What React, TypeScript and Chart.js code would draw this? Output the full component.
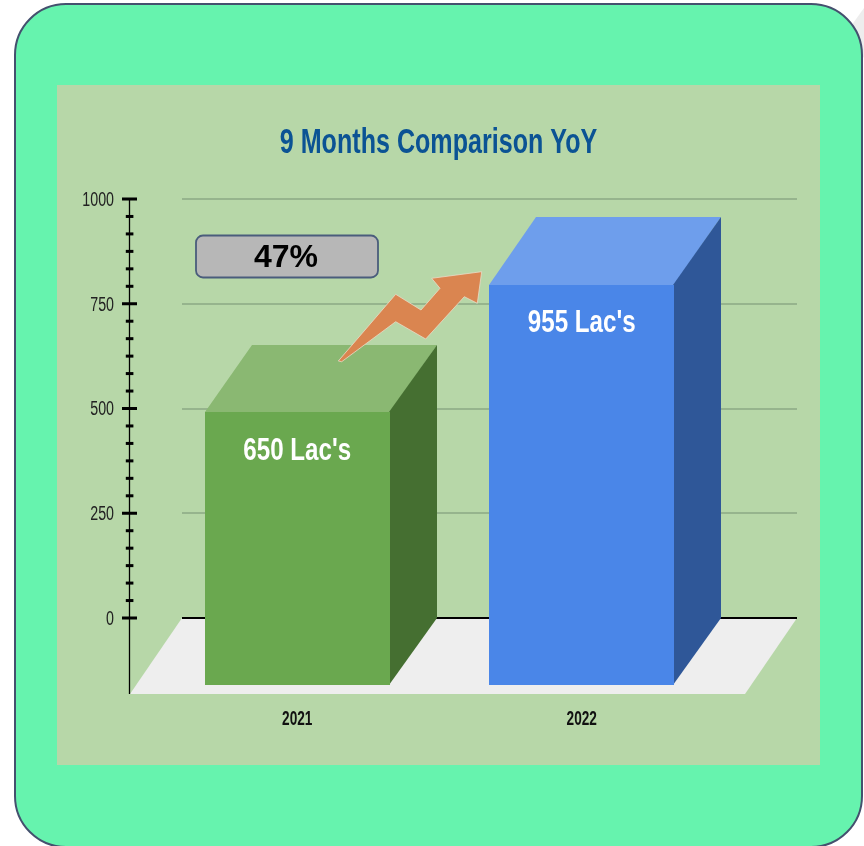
import React, { useEffect, useRef } from "react";
import { Chart, registerables } from "chart.js";

Chart.register(...registerables);

const categories = ["2021", "2022"];
const seriesValues = [650, 955];
const barLabels = ["650 Lac's", "955 Lac's"];
const frontColors = ["#6AA84F", "#4A86E8"];
const topColors = ["#8AB872", "#6E9EEC"];
const sideColors = ["#456F31", "#2F5798"];
const yTickLabels = [0, 250, 500, 750, 1000];
const minorStep = 250 / 6;
const titleText = "9 Months Comparison YoY";
const growthText = "47%";

const PANEL_X = 57;
const PANEL_Y = 85;
const SANS = '"Liberation Sans", sans-serif';
const DEPTH_X = 47;
const DEPTH_Y = 67;

const arrowShape: [number, number][] = [
  [338.3, 361], [395.7, 294.3], [421, 310], [440, 288.3], [431.7, 278.3], [481.7, 271.7],
  [477.3, 303.3], [464.3, 296.7], [425.7, 339], [395.7, 321.7], [341.7, 361.7],
];

function poly(ctx: CanvasRenderingContext2D, pts: number[][], fill: string) {
  ctx.beginPath();
  pts.forEach(([x, y], i) => (i ? ctx.lineTo(x, y) : ctx.moveTo(x, y)));
  ctx.closePath();
  ctx.fillStyle = fill;
  ctx.fill();
}

// The narrow face of the reference is not installed: condense the text horizontally.
function condenseText(ctx: any) {
  const original = ctx.fillText.bind(ctx);
  ctx.fillText = (text: string, x: number, y: number) => {
    if (text === growthText) {
      original(text, x, y);
      return;
    }
    const font: string = ctx.font;
    const bold = font.includes("bold");
    const k = font.includes("35px") ? 0.717 : font.includes("32px") ? 0.755 : bold ? 0.7 : 0.73;
    ctx.save();
    ctx.translate(x, bold ? y : y + 1.5);
    ctx.scale(k, 1);
    original(text, 0, 0);
    ctx.restore();
  };
}

const scene3d = {
  id: "scene3d",
  beforeDatasetsDraw(chart: any) {
    const { ctx, scales } = chart;
    const y = scales.y;
    const axisX = 130 - PANEL_X;
    const backL = 182 - PANEL_X;
    const backR = 797 - PANEL_X;
    const zero = y.getPixelForValue(0);
    ctx.save();
    poly(ctx, [[backL, zero], [backR, zero], [745 - PANEL_X, zero + 76], [axisX, zero + 76]], "#EEEEEE");
    yTickLabels.forEach((v) => {
      const py = Math.round(y.getPixelForValue(v));
      ctx.beginPath();
      ctx.moveTo(backL, py);
      ctx.lineTo(backR, py);
      ctx.strokeStyle = v === 0 ? "#000000" : "#8BA985";
      ctx.lineWidth = v === 0 ? 2 : 1.5;
      ctx.stroke();
    });
    ctx.beginPath();
    ctx.moveTo(axisX - 0.5, y.getPixelForValue(1000));
    ctx.lineTo(axisX - 0.5, zero + 76);
    ctx.strokeStyle = "#000000";
    ctx.lineWidth = 1.3;
    ctx.stroke();
    for (let i = 0; i <= 24; i++) {
      const py = y.getPixelForValue(i * minorStep);
      const major = i % 6 === 0;
      ctx.fillStyle = "#000000";
      ctx.fillRect(axisX - (major ? 8 : 4.2), py - 1.5, major ? 15 : 7.6, 3);
    }
    ctx.restore();
  },
  beforeDatasetDraw(chart: any, args: any) {
    const { ctx } = chart;
    args.meta.data.forEach((el: any, i: number) => {
      const left = Math.round(el.x - el.width / 2);
      const right = Math.round(el.x + el.width / 2);
      const backTop = Math.floor(el.y);
      const backBot = Math.round(el.base);
      const topF = Math.round(el.y + DEPTH_Y - 0.3);
      const botF = backBot + DEPTH_Y;
      poly(ctx, [[left, topF], [right, topF], [right + DEPTH_X, backTop], [left + DEPTH_X, backTop]], topColors[i]);
      poly(ctx, [[right - 1, topF], [right + DEPTH_X, backTop], [right + DEPTH_X, backBot], [right - 1, botF]], sideColors[i]);
      poly(ctx, [[left, topF], [right, topF], [right, botF], [left, botF]], el.options.backgroundColor);
      ctx.save();
      ctx.fillStyle = "#FFFFFF";
      ctx.font = `bold 32px ${SANS}`;
      ctx.textAlign = "center";
      ctx.textBaseline = "middle";
      ctx.fillText(barLabels[i], el.x, backTop + DEPTH_Y + 39.5);
      ctx.restore();
    });
    return false;
  },
  afterDatasetsDraw(chart: any) {
    const { ctx } = chart;
    ctx.save();
    ctx.translate(-PANEL_X, -PANEL_Y);
    poly(ctx, arrowShape, "#DA8550");
    ctx.lineWidth = 0.8;
    ctx.strokeStyle = "#E8DCC8";
    ctx.stroke();
    ctx.beginPath();
    ctx.roundRect(196, 235.5, 182, 42, 7);
    ctx.fillStyle = "#B7B7B7";
    ctx.fill();
    ctx.lineWidth = 1.8;
    ctx.strokeStyle = "#4A5D7C";
    ctx.stroke();
    ctx.fillStyle = "#000000";
    ctx.font = `bold 32px ${SANS}`;
    ctx.textAlign = "center";
    ctx.textBaseline = "middle";
    ctx.fillText(growthText, 286, 258);
    ctx.restore();
  },
};

export default function App() {
  const ref = useRef<HTMLCanvasElement>(null);
  useEffect(() => {
    const canvas = ref.current!;
    condenseText(canvas.getContext("2d"));
    const chart = new Chart(canvas, {
      type: "bar",
      data: {
        labels: categories,
        datasets: [{ label: "Lac's", data: seriesValues, yAxisID: "y", backgroundColor: frontColors, barPercentage: 1, categoryPercentage: 0.6503 }],
      },
      options: {
        animation: false,
        responsive: false,
        plugins: {
          legend: { display: false },
          tooltip: { enabled: false },
          title: {
            display: true,
            text: titleText,
            color: "#0B5394",
            font: { family: SANS, size: 35, weight: "bold", lineHeight: 1.2 },
            padding: { top: 37.5, bottom: 34.5 },
          },
        },
        scales: {
          x: {
            grid: { display: false },
            border: { display: false },
            ticks: { color: "#111111", padding: 82, font: { family: SANS, size: 19.5, weight: "bold" } },
            afterFit(s: any) { s.height = 147; },
          },
          y: {
            min: 0,
            max: 1000,
            grid: { display: false },
            border: { display: false },
            ticks: {
              stepSize: 250,
              padding: 33,
              color: "#222222",
              font: { family: SANS, size: 19.5 },
              callback: (v: any) => String(v),
            },
            afterFit(s: any) { s.width = 98; },
          },
          rightGutter: {
            position: "right",
            min: 0,
            max: 1000,
            grid: { display: false },
            border: { display: false },
            ticks: { display: false },
            afterFit(s: any) { s.width = 96; },
          },
        },
      } as any,
      plugins: [scene3d],
    });
    return () => chart.destroy();
  }, []);

  return (
    <div style={{ position: "absolute", left: 0, top: 0, width: 864, height: 846, overflow: "hidden", background: "#FFFFFF" }}>
      <div style={{ position: "absolute", left: 846, top: 8, width: 18, height: 50, background: "#EDEDED", clipPath: "polygon(0 50%, 100% 0, 100% 100%)" }} />
      <div style={{ position: "absolute", left: 14, top: 3, width: 849, height: 845, boxSizing: "border-box", background: "#66F3AE", border: "2px solid #44506E", borderRadius: 52 }} />
      <canvas ref={ref} width={763} height={680} style={{ position: "absolute", left: PANEL_X, top: PANEL_Y, width: 763, height: 680, background: "#B7D7A8" }} />
    </div>
  );
}
